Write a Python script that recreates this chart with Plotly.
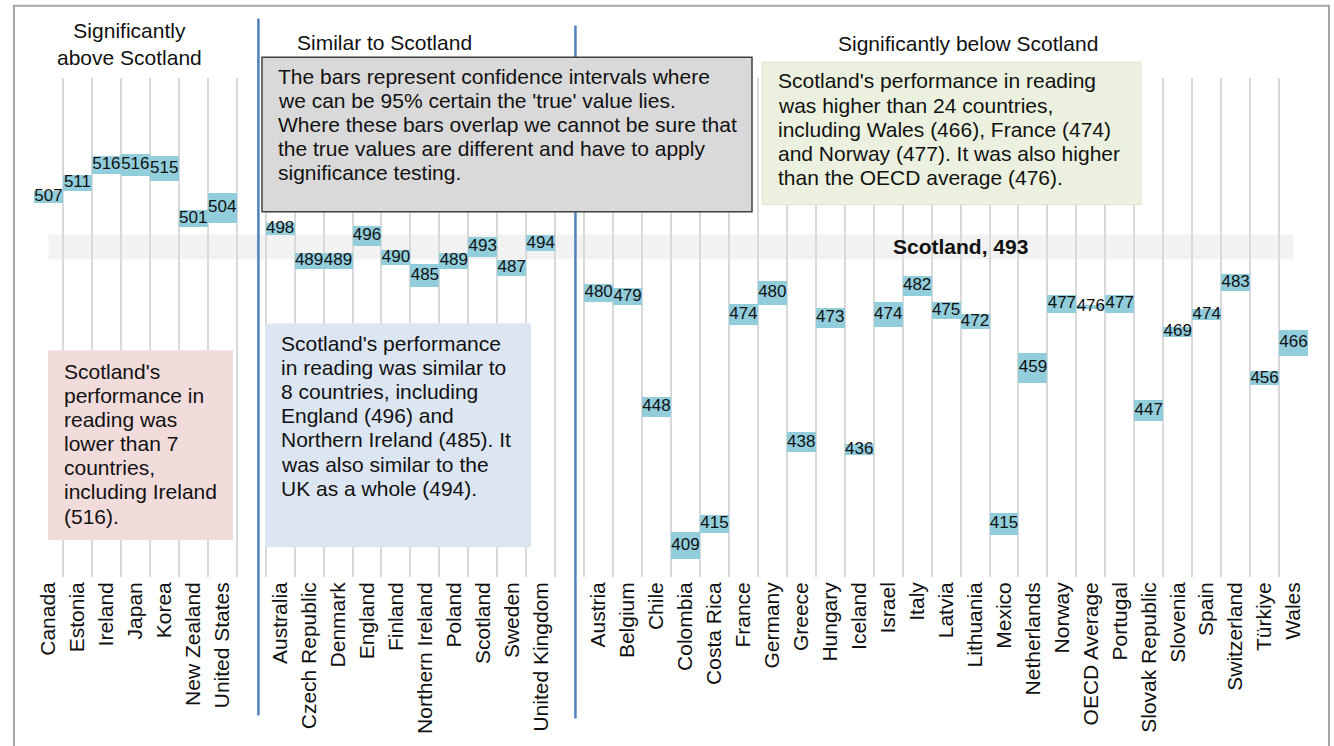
import plotly.graph_objects as go

# ---------------- data ----------------
above_countries = ["Canada", "Estonia", "Ireland", "Japan", "Korea", "New Zealand", "United States"]
above_scores = [507, 511, 516, 516, 515, 501, 504]
above_err = [1.8, 2.2, 2.6, 3.2, 3.6, 2.4, 4.2]

similar_countries = ["Australia", "Czech Republic", "Denmark", "England", "Finland",
                     "Northern Ireland", "Poland", "Scotland", "Sweden", "United Kingdom"]
similar_scores = [498, 489, 489, 496, 490, 485, 489, 493, 487, 494]
similar_err = [1.8, 2.3, 2.3, 2.8, 2.1, 3.3, 2.3, 2.8, 2.3, 2.3]

below_countries = ["Austria", "Belgium", "Chile", "Colombia", "Costa Rica", "France", "Germany",
                   "Greece", "Hungary", "Iceland", "Israel", "Italy", "Latvia", "Lithuania",
                   "Mexico", "Netherlands", "Norway", "OECD Average", "Portugal",
                   "Slovak Republic", "Slovenia", "Spain", "Switzerland", "Türkiye", "Wales"]
below_scores = [480, 479, 448, 409, 415, 474, 480, 438, 473, 436, 474, 482, 475, 472,
                415, 459, 477, 476, 477, 447, 469, 474, 483, 456, 466]
below_err = [2.6, 2.3, 2.8, 3.9, 2.5, 3.0, 3.5, 2.8, 2.8, 1.6, 3.5, 2.8, 2.4, 2.1,
             3.0, 4.2, 2.5, 0.5, 2.5, 3.0, 1.5, 1.6, 2.3, 2.0, 3.6]

scotland_score = 493
scotland_band = 3.5

group_titles = ["Significantly<br>above Scotland", "Similar to Scotland", "Significantly below Scotland"]

note_gray = ["The bars represent confidence intervals where",
             "we can be 95% certain the 'true' value lies.",
             "Where these bars overlap we cannot be sure that",
             "the true values are different and have to apply",
             "significance testing."]
note_green = ["Scotland's performance in reading",
              "was higher than 24 countries,",
              "including Wales (466), France (474)",
              "and Norway (477). It was also higher",
              "than the OECD average (476)."]
note_pink = ["Scotland's", "performance in", "reading was", "lower than 7",
             "countries,", "including Ireland", "(516)."]
note_blue = ["Scotland's performance", "in reading was similar to", "8 countries, including",
             "England (496) and", "Northern Ireland (485). It", "was also similar to the",
             "UK as a whole (494)."]

# ---------------- positions (one empty slot between groups) ----------------
groups = [(above_countries, above_scores, above_err),
          (similar_countries, similar_scores, similar_err),
          (below_countries, below_scores, below_err)]
xs, names, scores, errs, gaps = [], [], [], [], []
pos = 0
for gi, (c, s, e) in enumerate(groups):
    if gi > 0:
        gaps.append(pos)
        pos += 1
    for ci in range(len(c)):
        xs.append(pos)
        names.append(c[ci])
        scores.append(s[ci])
        errs.append(e[ci])
        pos += 1
n_slots = pos

lows = [s - e for s, e in zip(scores, errs)]
heights = [2 * e for e in errs]

FONT = "Liberation Sans, Arial, sans-serif"
W, H = 1334, 746
ML, MR, MT, MB = 34, 26, 78, 164
PW, PH = W - ML - MR, H - MT - MB


def px_x(p):
    return (p - ML) / PW


def px_y(p):
    return (H - MB - p) / PH


fig = go.Figure()
fig.add_trace(go.Bar(x=xs, y=heights, base=lows, width=1.0,
                     marker=dict(color="#92CDDC", line=dict(width=0)),
                     hoverinfo="skip", showlegend=False))
fig.add_trace(go.Scatter(x=xs, y=scores, mode="text", text=[str(v) for v in scores],
                         textposition="middle center",
                         textfont=dict(family=FONT, size=17, color="#111111"),
                         hoverinfo="skip", showlegend=False))

shapes = []
# outer frame
shapes.append(dict(type="rect", xref="paper", yref="paper", x0=px_x(14), x1=px_x(1329),
                   y0=px_y(770), y1=px_y(5), fillcolor="rgba(0,0,0,0)",
                   line=dict(color="#a6a6a6", width=2), layer="above"))
# Scotland band
shapes.append(dict(type="rect", xref="x", yref="y", x0=xs[0], x1=xs[-1],
                   y0=scotland_score - scotland_band, y1=scotland_score + scotland_band,
                   fillcolor="#f2f2f2", line=dict(width=0), layer="below"))
# group separators
sep_off = [0.25, 0.2]
sep_y = [(18, 722), (25, 725)]
for g, off, (yt, yb) in zip(gaps, sep_off, sep_y):
    shapes.append(dict(type="line", xref="x", yref="paper", x0=g + off, x1=g + off,
                       y0=px_y(yb), y1=px_y(yt), line=dict(color="#4F81BD", width=2.5)))

# text boxes
boxes = [
    (262, 752, 57, 213, "#d9d9d9", dict(color="#404040", width=1.5), note_gray, 276, 76),
    (762, 1141, 62, 206, "#ebf1de", dict(color="#dde3d0", width=1), note_green, 776, 81),
    (48, 233, 353, 545, "#f2dcdb", dict(width=0), note_pink, 62, 374),
    (265, 531, 326, 552, "#dce6f2", dict(width=0), note_blue, 279, 346),
]
annotations = []
LINE_H = 24.4
for x0, x1, y0, y1, fill, ln, lines, tx, ty in boxes:
    shapes.append(dict(type="rect", xref="paper", yref="paper", x0=px_x(x0), x1=px_x(x1),
                       y0=px_y(y1), y1=px_y(y0), fillcolor=fill, line=ln, layer="above"))
    for k, t in enumerate(lines):
        annotations.append(dict(xref="paper", yref="paper", x=px_x(tx), y=px_y(ty + k * LINE_H),
                                xanchor="left", yanchor="middle", text=t, showarrow=False,
                                font=dict(family=FONT, size=21, color="#111111")))

# group headers
header_pos = [(129, 44), (385, 42), (968, 43)]
for t, (hx, hy) in zip(group_titles, header_pos):
    annotations.append(dict(xref="paper", yref="paper", x=px_x(hx), y=px_y(hy),
                            xanchor="center", yanchor="middle", text=t, showarrow=False,
                            font=dict(family=FONT, size=21, color="#111111")))

# Scotland label
annotations.append(dict(xref="x", yref="y", x=31.5, y=scotland_score, text="<b>Scotland, %d</b>" % scotland_score,
                        showarrow=False, xanchor="center", yanchor="middle",
                        font=dict(family=FONT, size=21, color="#111111")))

fig.update_layout(
    width=W, height=H,
    margin=dict(l=ML, r=MR, t=MT, b=MB, pad=0),
    paper_bgcolor="white", plot_bgcolor="rgba(0,0,0,0)",
    shapes=shapes, annotations=annotations,
    bargap=0, showlegend=False,
    font=dict(family=FONT, color="#111111"),
)
fig.update_xaxes(range=[-0.5, n_slots - 0.5], tickmode="array", tickvals=xs, ticktext=names,
                 tickangle=-90, tickfont=dict(family=FONT, size=21, color="#111111"),
                 showgrid=False, zeroline=False, showline=False, ticks="",
                 minor=dict(tickmode="array", tickvals=[i - 0.5 for i in range(n_slots + 1)],
                            showgrid=True, gridcolor="#d9d9d9", gridwidth=1.5, ticks=""))
fig.update_yaxes(range=[400.1, 540.5], showgrid=False, zeroline=False, showline=False,
                 showticklabels=False)

fig.write_html("out.html", config={"displayModeBar": False},
               post_script="document.body.style.margin='0';document.body.style.overflow='hidden';")
